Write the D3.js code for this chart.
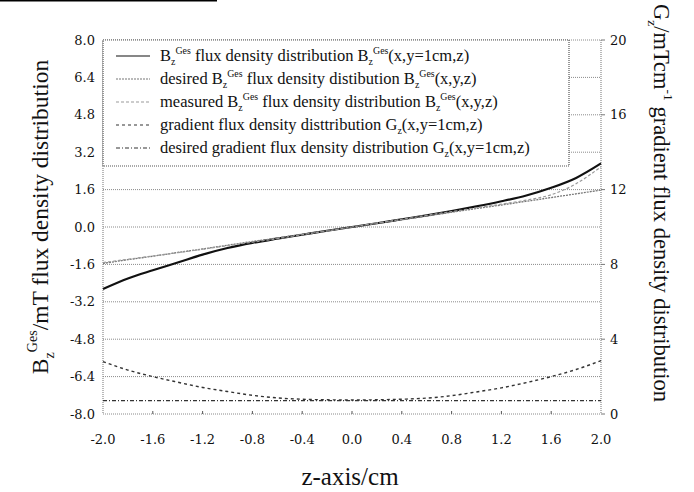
<!DOCTYPE html>
<html>
<head>
<meta charset="utf-8">
<script src="https://cdn.jsdelivr.net/npm/d3@7"></script>
<style>
body { margin: 0; background: #fff; }
text { font-family: "Liberation Serif", "Times New Roman", serif; fill: #111; }
.tick-label { font-family: "DejaVu Serif", serif; font-size: 13px; }
</style>
</head>
<body>
<svg id="chart" width="694" height="492"></svg>
<script>
// z positions (cm)
var zValues = [-2.0,-1.8,-1.6,-1.4,-1.2,-1.0,-0.8,-0.6,-0.4,-0.2,0.0,0.2,0.4,0.6,0.8,1.0,1.2,1.4,1.6,1.8,2.0];
// Bz Ges flux density (mT), left axis
var bzValues = [-2.65,-2.2,-1.85,-1.52,-1.18,-0.9,-0.68,-0.5,-0.33,-0.16,0.0,0.16,0.33,0.5,0.68,0.88,1.1,1.35,1.68,2.1,2.72];
var bzDesired = [-1.56,-1.40,-1.25,-1.09,-0.94,-0.78,-0.62,-0.47,-0.31,-0.16,0.0,0.16,0.31,0.47,0.63,0.79,0.94,1.10,1.26,1.42,1.58];
var bzMeasured = [-1.52,-1.38,-1.24,-1.1,-0.95,-0.8,-0.65,-0.5,-0.33,-0.17,0.0,0.17,0.33,0.5,0.66,0.82,0.98,1.15,1.38,1.85,2.58];
// gradient (mT/cm), right axis
var gzValues = [2.8,2.35,2.0,1.7,1.42,1.2,1.0,0.86,0.79,0.76,0.75,0.76,0.79,0.85,0.98,1.18,1.4,1.68,2.0,2.38,2.85];
var gzDesired = [0.72,0.72,0.72,0.72,0.72,0.72,0.72,0.72,0.72,0.72,0.72,0.72,0.72,0.72,0.72,0.72,0.72,0.72,0.72,0.72,0.72];

var xTicks = [-2.0,-1.6,-1.2,-0.8,-0.4,0.0,0.4,0.8,1.2,1.6,2.0];
var yLeftTicks = [8.0,6.4,4.8,3.2,1.6,0.0,-1.6,-3.2,-4.8,-6.4,-8.0];
var yRightTicks = [0,4,8,12,16,20];

var legendLabels = [
  [["B"],["z","sub"],["Ges","sup"],[" flux density distribution B"],["z","sub"],["Ges","sup"],["(x,y=1cm,z)"]],
  [["desired B"],["z","sub"],["Ges","sup"],[" flux density distibution B"],["z","sub"],["Ges","sup"],["(x,y,z)"]],
  [["measured B"],["z","sub"],["Ges","sup"],[" flux density distribution B"],["z","sub"],["Ges","sup"],["(x,y,z)"]],
  [["gradient flux density disttribution G"],["z","sub"],["(x,y=1cm,z)"]],
  [["desired gradient flux density distribution G"],["z","sub"],["(x,y=1cm,z)"]]
];

var pLeft = 103, pRight = 601, pTop = 40, pBottom = 414;
var svg = d3.select("#chart");

var x = d3.scaleLinear().domain([-2, 2]).range([pLeft, pRight]);
var yL = d3.scaleLinear().domain([-8, 8]).range([pBottom, pTop]);
var yR = d3.scaleLinear().domain([0, 20]).range([pBottom, pTop]);

function fmt(d) { return d.toFixed(1); }

// scan artefact line at the very top
svg.append("line").attr("x1", 0).attr("x2", 217).attr("y1", 0.5).attr("y2", 0.5)
  .style("stroke", "#000").style("stroke-width", 2);

// horizontal grid
svg.selectAll("line.grid").data(yLeftTicks).enter().append("line")
  .attr("class", "grid")
  .attr("x1", pLeft).attr("x2", pRight)
  .attr("y1", function(d) { return yL(d); }).attr("y2", function(d) { return yL(d); })
  .style("stroke", "#8a8a8a").style("stroke-width", 1).style("stroke-dasharray", "1,1");

// side borders
[pLeft, pRight].forEach(function(px) {
  svg.append("line").attr("x1", px).attr("x2", px).attr("y1", pTop).attr("y2", pBottom)
    .style("stroke", "#8a8a8a").style("stroke-width", 1.2).style("stroke-dasharray", "1,1");
});

// bottom minor ticks
svg.selectAll("line.xt").data(xTicks.slice(1, -1)).enter().append("line")
  .attr("x1", function(d) { return x(d); }).attr("x2", function(d) { return x(d); })
  .attr("y1", pBottom).attr("y2", pBottom - 3)
  .style("stroke", "#555").style("stroke-width", 1);

// right ticks
svg.selectAll("line.rt").data(yRightTicks).enter().append("line")
  .attr("x1", pRight).attr("x2", pRight + 4)
  .attr("y1", function(d) { return yR(d); }).attr("y2", function(d) { return yR(d); })
  .style("stroke", "#777").style("stroke-width", 1);

// tick labels
svg.selectAll("text.yl").data(yLeftTicks).enter().append("text")
  .attr("class", "tick-label")
  .attr("x", 95).attr("y", function(d) { return yL(d); })
  .attr("dy", "0.35em").attr("text-anchor", "end")
  .text(fmt);

svg.selectAll("text.xl").data(xTicks).enter().append("text")
  .attr("class", "tick-label")
  .attr("x", function(d) { return x(d); }).attr("y", 439)
  .attr("dy", "0.35em").attr("text-anchor", "middle")
  .text(fmt);

svg.selectAll("text.yr").data(yRightTicks).enter().append("text")
  .attr("class", "tick-label")
  .attr("x", 610).attr("y", function(d) { return yR(d); })
  .attr("dy", "0.35em").attr("text-anchor", "start")
  .text(function(d) { return d; });

// curves
var series = [
  { vals: bzValues, scale: yL, color: "#111", width: 2.2, dash: null },
  { vals: bzDesired, scale: yL, color: "#777", width: 1.3, dash: "2,1" },
  { vals: bzMeasured, scale: yL, color: "#999", width: 1.2, dash: "3,2" },
  { vals: gzValues, scale: yR, color: "#333", width: 1.4, dash: "3,3" },
  { vals: gzDesired, scale: yR, color: "#333", width: 1.2, dash: "4,2,1,2" }
];

series.forEach(function(s) {
  var line = d3.line()
    .x(function(d, i) { return x(zValues[i]); })
    .y(function(d) { return s.scale(d); })
    .curve(d3.curveMonotoneX);
  svg.append("path").datum(s.vals)
    .attr("d", line)
    .style("fill", "none").style("stroke", s.color)
    .style("stroke-width", s.width)
    .style("stroke-dasharray", s.dash);
});

// rich text helper
function richText(sel, parts, size) {
  var off = 0;
  parts.forEach(function(p) {
    var t = sel.append("tspan").text(p[0]);
    if (p[1] === "sub") {
      t.attr("dy", off + size * 0.25).style("font-size", (size * 0.6) + "px");
      off = -size * 0.25;
    } else if (p[1] === "sup") {
      t.attr("dy", off - size * 0.45).style("font-size", (size * 0.6) + "px");
      off = size * 0.45;
    } else {
      t.attr("dy", off);
      off = 0;
    }
  });
}

// legend
var lg = svg.append("g");
lg.append("rect").attr("x", pLeft).attr("y", pTop).attr("width", 466).attr("height", 126)
  .style("fill", "#fff").style("stroke", "#555").style("stroke-width", 1.2)
  .style("stroke-dasharray", "1,1");
legendLabels.forEach(function(parts, i) {
  var cy = 56 + i * 23;
  lg.append("line").attr("x1", 116).attr("x2", 150).attr("y1", cy).attr("y2", cy)
    .style("stroke", series[i].color).style("stroke-width", 1.2)
    .style("stroke-dasharray", series[i].dash);
  var t = lg.append("text").attr("x", 160).attr("y", cy + 5).style("font-size", "16.5px");
  richText(t, parts, 16.5);
});

// axis titles
svg.append("text").attr("x", 350).attr("y", 485).attr("text-anchor", "middle")
  .style("font-size", "25px").text("z-axis/cm");

var lt = svg.append("text").attr("transform", "translate(48,217) rotate(-90)")
  .attr("text-anchor", "middle").style("font-size", "23.5px");
richText(lt, [["B"],["z","sub"],["Ges","sup"],["/mT flux density distribution"]], 23.5);

var rt = svg.append("text").attr("transform", "translate(654,203) rotate(90)")
  .attr("text-anchor", "middle").style("font-size", "22.5px");
richText(rt, [["G"],["z","sub"],["/mTcm"],["-1","sup"],[" gradient flux density distribution"]], 22.5);
</script>
</body>
</html>
